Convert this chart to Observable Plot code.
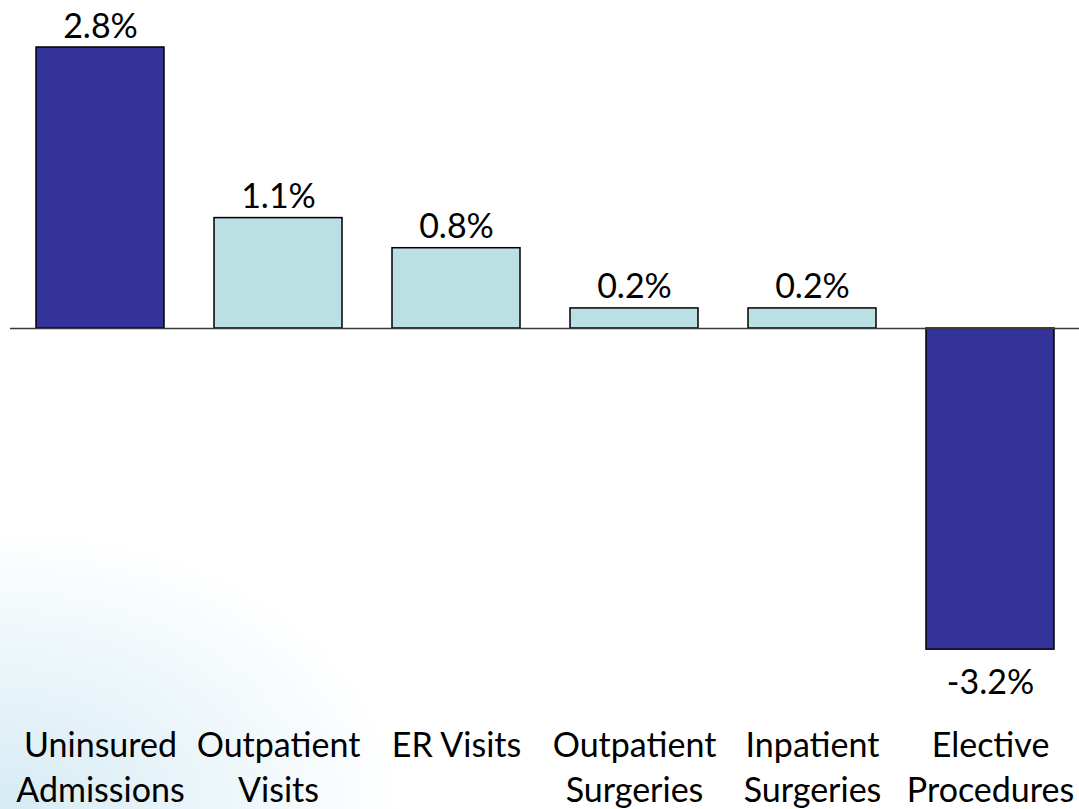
<!DOCTYPE html>
<html>
<head>
<meta charset="utf-8">
<script src="https://cdn.jsdelivr.net/npm/d3@7"></script>
<script src="https://cdn.jsdelivr.net/npm/@observablehq/plot@0.6"></script>
<style>
  html, body { margin: 0; padding: 0; }
  body {
    width: 1079px; height: 809px; overflow: hidden;
    background: radial-gradient(ellipse 400px 280px at 0% 100%, #d6ebf4 0%, #e8f4f9 45%, #ffffff 100%);
  }
</style>
</head>
<body>
<div id="chart"></div>
<script>
const categories = ["Uninsured Admissions", "Outpatient Visits", "ER Visits", "Outpatient Surgeries", "Inpatient Surgeries", "Elective Procedures"];
const labels = ["Uninsured\nAdmissions", "Outpatient\nVisits", "ER Visits", "Outpatient\nSurgeries", "Inpatient\nSurgeries", "Elective\nProcedures"];
const values = [2.8, 1.1, 0.8, 0.2, 0.2, -3.2];
const groups = ["key", "other", "other", "other", "other", "key"];

const data = categories.map((c, i) => ({cat: c, label: labels[i], value: values[i], group: groups[i]}));
const pos = data.filter(d => d.value >= 0);
const neg = data.filter(d => d.value < 0);
const font = "Lato, 'Open Sans', sans-serif";

const chart = Plot.plot({
  width: 1079,
  height: 809,
  marginLeft: 10,
  marginRight: 0,
  marginTop: 0,
  marginBottom: 0,
  style: {background: "transparent", fontFamily: font, color: "#000"},
  x: {domain: categories, range: [-15, 1104], padding: 0.282, axis: null},
  y: {domain: [0, 2.8], range: [328, 47], axis: null},
  color: {domain: ["key", "other"], range: ["#333399", "#bae0e3"]},
  marks: [
    Plot.barY(data, {x: "cat", y: "value", fill: "group", stroke: "#000", strokeWidth: 1.5}),
    Plot.ruleY([0], {stroke: "#3a3a3a", strokeWidth: 1.5}),
    Plot.text(pos, {x: "cat", y: "value", text: d => d.value.toFixed(1) + "%", lineAnchor: "bottom", dy: -10, fontSize: 34, fill: "#000"}),
    Plot.text(neg, {x: "cat", y: "value", text: d => d.value.toFixed(1) + "%", lineAnchor: "top", dy: 20, fontSize: 34, fill: "#000"}),
    Plot.text(data, {x: "cat", text: "label", frameAnchor: "bottom", lineAnchor: "top", dy: -84, fontSize: 34, lineHeight: 1.32, fill: "#000"})
  ]
});
document.getElementById("chart").appendChild(chart);
</script>
</body>
</html>
